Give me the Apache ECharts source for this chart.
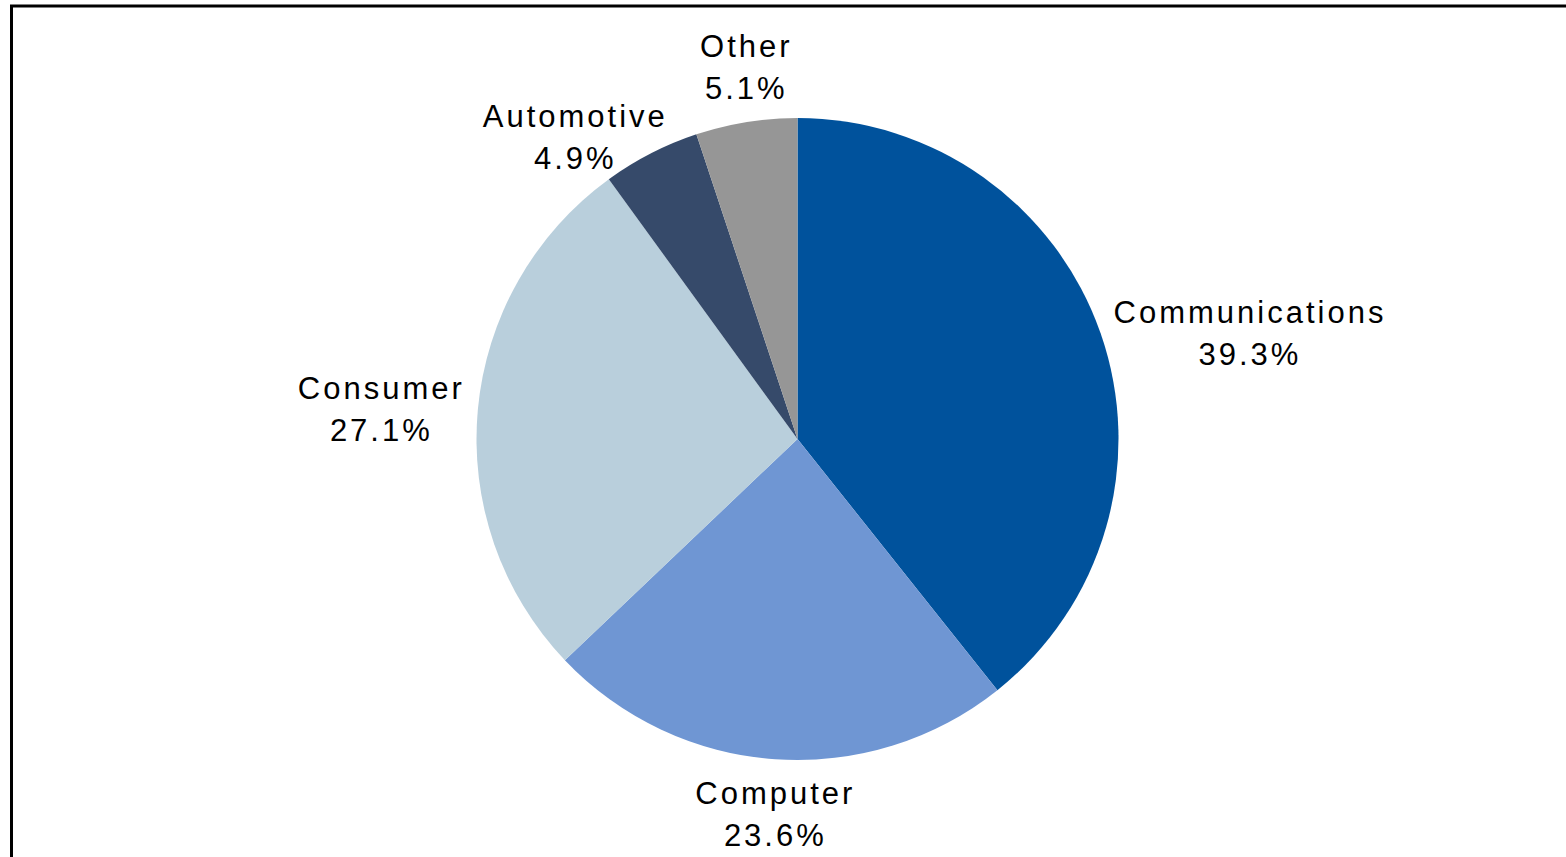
<!DOCTYPE html>
<html>
<head>
<meta charset="utf-8">
<script src="https://cdn.jsdelivr.net/npm/echarts@6/dist/echarts.min.js"></script>
<style>
  html, body { margin: 0; padding: 0; background: #fff; }
  #chart { width: 1566px; height: 857px; }
  #chart text { letter-spacing: 3px !important; }
</style>
</head>
<body>
<div id="chart"></div>
<script>
// Data
var categories = ['Communications', 'Computer', 'Consumer', 'Automotive', 'Other'];
var shares = [39.3, 23.6, 27.1, 4.9, 5.1];
var sliceColors = ['#00529C', '#6F96D3', '#B9CFDC', '#364A6A', '#969696'];

var LETTER_SPACING = 3;
var GAP = 13;
var LABEL_MARGIN = 32;
var FONT_SIZE = 31;
var LINE_HEIGHT = 42;
var FONT_FAMILY = '"Liberation Sans", Arial, sans-serif';
var PIE_CENTER = [797.5, 439];
var PIE_RADIUS = 321;

function labelText(i) { return categories[i] + '\n' + shares[i] + '%'; }

// text block size (with letter spacing)
var measureCtx = document.createElement('canvas').getContext('2d');
function blockSize(text) {
  measureCtx.font = FONT_SIZE + 'px ' + FONT_FAMILY;
  var lines = text.split('\n'), w = 0;
  lines.forEach(function (l) {
    w = Math.max(w, measureCtx.measureText(l).width + LETTER_SPACING * l.length);
  });
  return { w: w, h: lines.length * LINE_HEIGHT };
}

// slice mid-angles (math degrees) derived from the data, clockwise from 12 o'clock
function sliceAngles() {
  var total = shares.reduce(function (a, b) { return a + b; }, 0);
  var acc = 0, out = [];
  shares.forEach(function (v) {
    var start = 90 - 360 * acc / total;
    acc += v;
    var end = 90 - 360 * acc / total;
    out.push({ start: start, end: end, mid: (start + end) / 2 });
  });
  return out;
}

function boxAt(angleDeg, size) {
  var a = angleDeg * Math.PI / 180;
  var dx = Math.cos(a), dy = -Math.sin(a);
  var ax = PIE_CENTER[0] + dx * PIE_RADIUS, ay = PIE_CENTER[1] + dy * PIE_RADIUS;
  var x, y;
  if (Math.abs(dx) > Math.abs(dy)) {
    x = ax + (dx > 0 ? 1 : -1) * (GAP + size.w / 2);
    y = ay;
  } else {
    x = ax;
    y = ay + (dy > 0 ? 1 : -1) * (GAP + size.h / 2);
  }
  return { x: x, y: y, w: size.w, h: size.h, tx: -Math.sin(a), ty: -Math.cos(a) };
}

function overlaps(b1, b2, m) {
  return Math.abs(b1.x - b2.x) < (b1.w + b2.w) / 2 + m &&
         Math.abs(b1.y - b2.y) < (b1.h + b2.h) / 2;
}

// Place labels from last slice to first; a label colliding with an
// already-placed one is slid along the tangent, away from it.
var placed = [];
(function computePlacement() {
  var angs = sliceAngles();
  for (var i = shares.length - 1; i >= 0; i--) {
    var size = blockSize(labelText(i));
    var base = boxAt(angs[i].mid, size);
    var box = { x: base.x, y: base.y, w: base.w, h: base.h };
    for (var t = 0; t < 400; t++) {
      box.x = base.x + base.tx * t;
      box.y = base.y + base.ty * t;
      var hit = false;
      for (var j = i + 1; j < shares.length; j++) {
        if (placed[j] && overlaps(box, placed[j], LABEL_MARGIN)) { hit = true; break; }
      }
      if (!hit) break;
    }
    placed[i] = box;
  }
})();

var chart = echarts.init(document.getElementById('chart'), null, { renderer: 'svg' });

var seriesData = categories.map(function (name, i) {
  return { name: name, value: shares[i], itemStyle: { color: sliceColors[i] } };
});

chart.setOption({
  animation: false,
  backgroundColor: '#ffffff',
  graphic: [{
    type: 'rect',
    shape: { x: 11.5, y: 6, width: 2000, height: 2000 },
    style: { fill: 'none', stroke: '#000', lineWidth: 3 },
    silent: true
  }],
  series: [{
    type: 'pie',
    center: PIE_CENTER,
    radius: PIE_RADIUS,
    startAngle: 90,
    clockwise: true,
    avoidLabelOverlap: false,
    itemStyle: { borderWidth: 0 },
    label: {
      show: true,
      position: 'outside',
      formatter: '{b}\n{c}%',
      color: '#000',
      fontFamily: FONT_FAMILY,
      fontSize: FONT_SIZE,
      lineHeight: LINE_HEIGHT,
      align: 'center'
    },
    labelLine: { show: false },
    labelLayout: function (p) {
      var b = placed[p.dataIndex];
      return { x: b.x, y: b.y, align: 'center', verticalAlign: 'middle' };
    },
    data: seriesData
  }]
});
</script>
</body>
</html>
